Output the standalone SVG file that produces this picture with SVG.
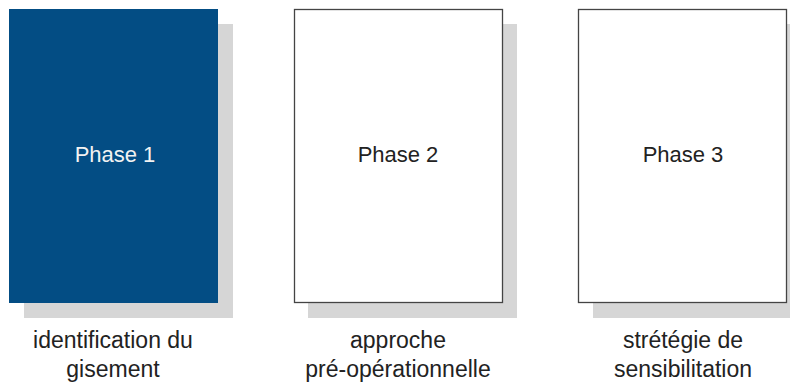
<svg xmlns="http://www.w3.org/2000/svg" width="790" height="388" viewBox="0 0 790 388">
  <style>
    .shadow { fill: #d6d6d6; }
    .card { fill: #ffffff; stroke: #444444; stroke-width: 1.3; }
    .card-active { fill: #034d84; }
    .title { font-family: "Liberation Sans", Arial, sans-serif; font-size: 22px; text-anchor: middle; fill: #222222; }
    .title-active { fill: #f2f2f2; }
    .caption { font-family: "Liberation Sans", Arial, sans-serif; font-size: 23px; text-anchor: middle; fill: #222222; }
  </style>
  <rect width="790" height="388" fill="#ffffff"/>

  <g id="phase1">
    <rect class="shadow" x="24" y="24" width="209" height="294"/>
    <rect class="card-active" x="9" y="9" width="209" height="294"/>
    <text class="title title-active" x="115" y="162">Phase 1</text>
    <text class="caption" x="113" y="348">identification du</text>
    <text class="caption" x="113" y="377">gisement</text>
  </g>

  <g id="phase2">
    <rect class="shadow" x="308" y="24" width="209" height="294"/>
    <rect class="card" x="294.5" y="9.5" width="208" height="293"/>
    <text class="title" x="398" y="162">Phase 2</text>
    <text class="caption" x="398" y="348">approche</text>
    <text class="caption" x="398" y="377">pré-opérationnelle</text>
  </g>

  <g id="phase3">
    <rect class="shadow" x="593" y="24" width="209" height="294"/>
    <rect class="card" x="578.5" y="9.5" width="208" height="293"/>
    <text class="title" x="683" y="162">Phase 3</text>
    <text class="caption" x="683" y="348">strétégie de</text>
    <text class="caption" x="683" y="377">sensibilitation</text>
  </g>

  <g id="connectors"/>
</svg>
